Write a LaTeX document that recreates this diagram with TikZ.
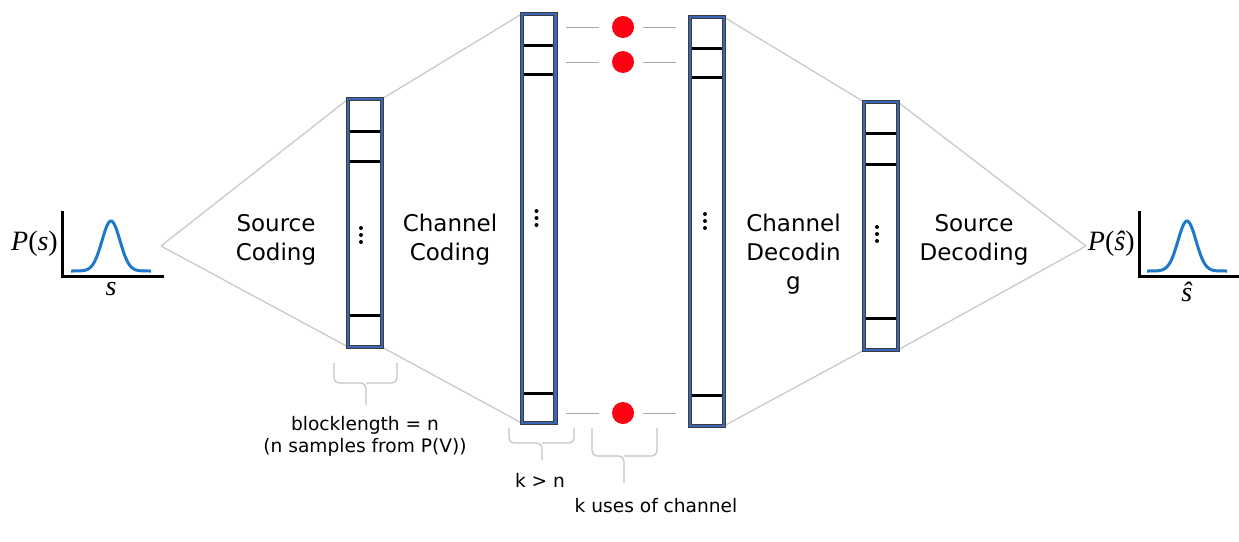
\documentclass[tikz,border=0pt]{standalone}
\usepackage{fontspec}
\setsansfont{DejaVu Sans}
\newfontfamily\timesfont{Liberation Serif}
\begin{document}
\begin{tikzpicture}[x=1pt,y=-1pt,
  bar/.style={draw=bardark, line width=4.4pt, fill=white, inner sep=0pt, outer sep=0pt,
    minimum width=33.6pt, postaction={draw=barblue, line width=2.4pt}},
  divider/.style={line width=3pt, black},
  fan/.style={draw=fangray, line width=1.3pt},
  link/.style={draw=linkgray, line width=1pt},
  brace/.style={draw=bracegray, line width=1.2pt, rounded corners=5pt},
  gauss/.style={draw=gaussblue, line width=3pt},
  axis/.style={draw=black, line width=3pt},
  redball/.style={circle, fill=ballred, minimum size=22pt, inner sep=0pt},
  stage/.style={font=\sffamily\fontsize{23}{29}\selectfont, align=center, inner sep=0pt},
  note/.style={font=\sffamily\fontsize{18.6}{22}\selectfont, align=center, inner sep=0pt},
  distlbl/.style={font=\timesfont\fontsize{28}{32}\selectfont, inner sep=0pt},
  vdot/.style={circle, fill=black, minimum size=4pt, inner sep=0pt}
]
\definecolor{bardark}{HTML}{3C3C3C}
\definecolor{barblue}{HTML}{3A66B8}
\definecolor{fangray}{HTML}{CACACA}
\definecolor{linkgray}{HTML}{A8A8A8}
\definecolor{bracegray}{HTML}{C4C4C4}
\definecolor{gaussblue}{HTML}{1F78C8}
\definecolor{ballred}{HTML}{FF0012}

\useasboundingbox[fill=white] (0,0) rectangle (1239,541);

% fan apexes and bar centres
\coordinate (srcapex) at (161,246);
\coordinate (dstapex) at (1086,246);
\path (365,223) coordinate (c1) (538.5,218.5) coordinate (c2)
      (707,221.5) coordinate (c3) (881,226) coordinate (c4);

% bar outlines, used as anchors for the fan lines
\node[bar, minimum height=248pt] (b1) at (c1) {};
\node[bar, minimum height=409pt] (b2) at (c2) {};
\node[bar, minimum height=409pt] (b3) at (c3) {};
\node[bar, minimum height=248pt] (b4) at (c4) {};

\draw[fan] (srcapex) -- (b1.north west) (srcapex) -- (b1.south west);
\draw[fan] (b1.north east) -- (b2.north west) (b1.south east) -- (b2.south west);
\draw[fan] (b3.north east) -- (b4.north west) (b3.south east) -- (b4.south west);
\draw[fan] (b4.north east) -- (dstapex) (b4.south east) -- (dstapex);

% bars again, on top of the fan lines
\node[bar, minimum height=248pt] at (c1) {};
\node[bar, minimum height=409pt] at (c2) {};
\node[bar, minimum height=409pt] at (c3) {};
\node[bar, minimum height=248pt] at (c4) {};

% dividers
\foreach \b/\ya/\yb/\yc in {b1/131/161/315, b2/45/74/393, b3/48/77/395, b4/133/164/318}{
  \draw[divider] ([xshift=2pt]\b.west |- 0,\ya) -- ([xshift=-2pt]\b.east |- 0,\ya);
  \draw[divider] ([xshift=2pt]\b.west |- 0,\yb) -- ([xshift=-2pt]\b.east |- 0,\yb);
  \draw[divider] ([xshift=2pt]\b.west |- 0,\yc) -- ([xshift=-2pt]\b.east |- 0,\yc);
}

% vertical ellipses
\foreach \b/\dx/\yy in {b1/-4/235, b2/-2/218, b3/-2/221, b4/-4/234}{
  \node[vdot] at ([xshift=\dx pt]\b.center |- 0,{\yy-7}) {};
  \node[vdot] at ([xshift=\dx pt]\b.center |- 0,\yy) {};
  \node[vdot] at ([xshift=\dx pt]\b.center |- 0,{\yy+7}) {};
}

% channel uses
\node[redball] (u1) at (623,27) {};
\node[redball] (u2) at (623,62) {};
\node[redball] (u3) at (623,413) {};
\foreach \u in {u1,u2,u3}{
  \draw[link] ([xshift=-57pt]\u.center) -- ([xshift=-24pt]\u.center);
  \draw[link] ([xshift=20pt]\u.center) -- ([xshift=53pt]\u.center);
}

% stage labels
\node[stage] (sc) at (276,239.5) {Source\\Coding};
\node[stage] (cc) at (450,239.5) {Channel\\Coding};
\node[stage] (cd) at (793.5,254) {Channel\\Decodin\\g};
\node[stage] (sd) at (974,239.5) {Source\\Decoding};

% braces
\draw[brace] (334,363) -- (334,383) -- (366,383) -- (366,405);
\draw[brace] (397,363) -- (397,383) -- (366,383);
\draw[brace] (509,428) -- (509,443) -- (542,443) -- (542,460);
\draw[brace] (574,428) -- (574,443) -- (542,443);
\draw[brace] (592,428) -- (592,456) -- (624,456) -- (624,483);
\draw[brace] (657,428) -- (657,456) -- (624,456);

\node[note] (bl) at (365,436) {blocklength = n\\(n samples from P(V))};
\node[note, anchor=base] (kn) at (540,487) {k > n};
\node[note, anchor=base] (ku) at (656,512) {k uses of channel};

% source distribution
\draw[axis] (62,211) -- (62,276) -- (164,276);
\draw[gauss] plot[domain=-40:40, samples=81, smooth] ({111+\x},{271-50*exp(-0.5*(\x/9)*(\x/9))});
\node[distlbl, anchor=base east] (ps) at (58,250) {\textit{P}(\textit{s})};
\node[distlbl, anchor=base] (sx) at (111,295) {\textit{s}};

% reconstructed distribution
\draw[axis] (1139,211) -- (1139,276) -- (1239,276);
\draw[gauss] plot[domain=-40:40, samples=81, smooth] ({1187+\x},{271-50*exp(-0.5*(\x/9)*(\x/9))});
\node[distlbl, anchor=base east] (pshat) at (1135,250) {\textit{P}(\textit{ŝ})};
\node[distlbl, anchor=base] (shat) at (1187,301) {\textit{ŝ}};
\end{tikzpicture}
\end{document}
